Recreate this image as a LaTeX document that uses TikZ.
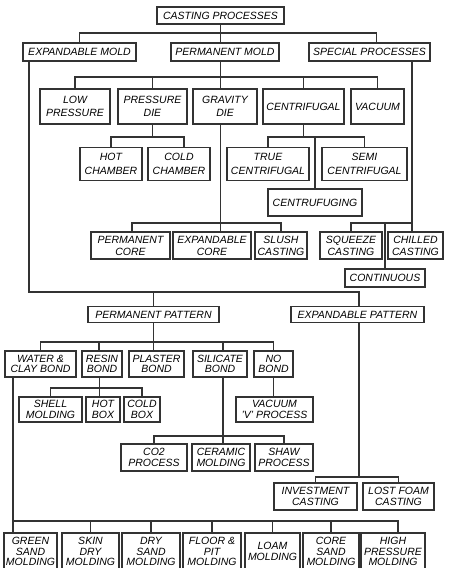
\documentclass[tikz,border=0pt]{standalone}
\usepackage{fontspec}
\setmainfont{Liberation Sans}
\usepackage{tikz}
\usetikzlibrary{positioning,calc}
\newcommand{\cpfont}{\fontsize{10.5}{13.5}\selectfont\itshape}
\tikzset{
  cpbox/.style={draw=black!80, line width=1.2pt, rectangle, inner sep=0pt, align=center, font=\cpfont},
  cpmid/.style={font=\fontsize{10.5}{12}\selectfont\itshape},
  cptight/.style={font=\fontsize{10.5}{10.5}\selectfont\itshape},
  cpline/.style={draw=black!80, line width=1.1pt},
}

\begin{document}
\begin{tikzpicture}[x=1pt, y=-1pt]
  \useasboundingbox (0,0) rectangle (449,568);
  % top and molds
  \node[cpbox, minimum width=127pt, minimum height=17pt] (cast) at (220.5,15.5) {CASTING PROCESSES};
  \node[cpbox, minimum width=113pt, minimum height=18pt] (expmold) at (79.5,52) {EXPANDABLE MOLD};
  \node[cpbox, minimum width=108pt, minimum height=18pt] (permmold) at (225,52) {PERMANENT MOLD};
  \node[cpbox, minimum width=121pt, minimum height=18pt] (special) at (369.5,52) {SPECIAL PROCESSES};

  % permanent mold
  \node[cpbox, minimum width=70pt, minimum height=35pt] (lowp) at (75,106.5) {LOW\\PRESSURE};
  \node[cpbox, minimum width=69pt, minimum height=35pt] (presdie) at (152.5,106.5) {PRESSURE\\DIE};
  \node[cpbox, minimum width=64pt, minimum height=35pt] (gravdie) at (225,106.5) {GRAVITY\\DIE};
  \node[cpbox, minimum width=81pt, minimum height=35pt] (centri) at (303.5,106.5) {CENTRIFUGAL};
  \node[cpbox, minimum width=53pt, minimum height=35pt] (vacuum) at (377.5,106.5) {VACUUM};
  \node[cpbox, minimum width=62pt, minimum height=33pt] (hotch) at (111,164) {HOT\\CHAMBER};
  \node[cpbox, minimum width=62pt, minimum height=33pt] (coldch) at (179,164) {COLD\\CHAMBER};
  \node[cpbox, minimum width=82pt, minimum height=33pt] (truec) at (268,164) {TRUE\\CENTRIFUGAL};
  \node[cpbox, minimum width=85pt, minimum height=33pt] (semic) at (364.5,164) {SEMI\\CENTRIFUGAL};
  \node[cpbox, minimum width=94pt, minimum height=27pt] (centruf) at (315,202.5) {CENTRUFUGING};
  \node[cpbox, cpmid, minimum width=79pt, minimum height=27pt] (permcore) at (130.5,245.5) {PERMANENT\\CORE};
  \node[cpbox, cpmid, minimum width=78pt, minimum height=27pt] (expcore) at (212,245.5) {EXPANDABLE\\CORE};
  \node[cpbox, cpmid, minimum width=52pt, minimum height=27pt] (slush) at (281,245.5) {SLUSH\\CASTING};

  % special processes
  \node[cpbox, cpmid, minimum width=62pt, minimum height=27pt] (squeeze) at (351,245.5) {SQUEEZE\\CASTING};
  \node[cpbox, cpmid, minimum width=55pt, minimum height=27pt] (chilled) at (415.5,245.5) {CHILLED\\CASTING};
  \node[cpbox, minimum width=80pt, minimum height=18pt] (contin) at (385,278) {CONTINUOUS};

  % expandable mold
  \node[cpbox, minimum width=131pt, minimum height=16pt] (permpat) at (153.5,314.5) {PERMANENT PATTERN};
  \node[cpbox, minimum width=133pt, minimum height=16pt] (exppat) at (357.5,314.5) {EXPANDABLE PATTERN};
  \node[cpbox, cptight, minimum width=71pt, minimum height=26pt] (water) at (40.5,364) {WATER \&\\CLAY BOND};
  \node[cpbox, cptight, minimum width=40pt, minimum height=26pt] (resin) at (102,364) {RESIN\\BOND};
  \node[cpbox, cptight, minimum width=55pt, minimum height=26pt] (plaster) at (156.5,364) {PLASTER\\BOND};
  \node[cpbox, cptight, minimum width=54pt, minimum height=26pt] (silicate) at (220,364) {SILICATE\\BOND};
  \node[cpbox, cptight, minimum width=39pt, minimum height=26pt] (nobond) at (273.5,364) {NO\\BOND};
  \node[cpbox, cptight, minimum width=63pt, minimum height=25pt] (shell) at (50.5,409.5) {SHELL\\MOLDING};
  \node[cpbox, cptight, minimum width=34pt, minimum height=25pt] (hotbox) at (103,409.5) {HOT\\BOX};
  \node[cpbox, cptight, minimum width=36pt, minimum height=25pt] (coldbox) at (142,409.5) {COLD\\BOX};
  \node[cpbox, cptight, minimum width=77pt, minimum height=25pt] (vacv) at (274.5,409.5) {VACUUM\\'V' PROCESS};
  \node[cpbox, cptight, minimum width=66pt, minimum height=27pt] (co2) at (154,457.5) {CO2\\PROCESS};
  \node[cpbox, cptight, minimum width=58pt, minimum height=27pt] (ceramic) at (221,457.5) {CERAMIC\\MOLDING};
  \node[cpbox, cptight, minimum width=58pt, minimum height=27pt] (shaw) at (284,457.5) {SHAW\\PROCESS};
  \node[cpbox, cptight, minimum width=83pt, minimum height=27pt] (invest) at (315.5,496.5) {INVESTMENT\\CASTING};
  \node[cpbox, cptight, minimum width=71pt, minimum height=27pt] (lostfoam) at (398.5,496.5) {LOST FOAM\\CASTING};

  % bottom row (cut by the page edge)
  \node[cpbox, cptight, minimum width=53pt, minimum height=37pt] (green) at (30.5,551.5) {GREEN\\SAND\\MOLDING};
  \node[cpbox, cptight, minimum width=57pt, minimum height=37pt] (skin) at (90.5,551.5) {SKIN\\DRY\\MOLDING};
  \node[cpbox, cptight, minimum width=58pt, minimum height=37pt] (dry) at (151,551.5) {DRY\\SAND\\MOLDING};
  \node[cpbox, cptight, minimum width=58pt, minimum height=37pt] (floor) at (212,551.5) {FLOOR \&\\PIT\\MOLDING};
  \node[cpbox, cptight, minimum width=55pt, minimum height=37pt] (loam) at (272.5,551.5) {LOAM\\MOLDING};
  \node[cpbox, cptight, minimum width=56pt, minimum height=37pt] (core) at (331,551.5) {CORE\\SAND\\MOLDING};
  \node[cpbox, cptight, minimum width=64pt, minimum height=37pt] (high) at (393,551.5) {HIGH\\PRESSURE\\MOLDING};

  % connectors
  \draw[cpline] (cast.south) -- (cast.south |- permmold.north);
  \draw[cpline] (expmold.north) |- (cast.south |- 0,33) -| ([xshift=7pt]special.north);

  \draw[cpline] (cast.south |- permmold.south) -- (cast.south |- gravdie.north);
  \draw[cpline] (lowp.north) |- (cast.south |- 0,77) -| (vacuum.north);
  \draw[cpline] (presdie.north) -- (presdie.north |- 0,77);
  \draw[cpline] (centri.north) -- (centri.north |- 0,77);

  \draw[cpline] (presdie.south) -- (presdie.south |- 0,137);
  \draw[cpline] (hotch.north) |- (presdie.south |- 0,137) -| ([xshift=5pt]coldch.north);
  \draw[cpline] (centri.south) -- (centri.south |- 0,137);
  \draw[cpline] (truec.north) |- (centri.south |- 0,137) -| (semic.north);
  \draw[cpline] (centruf.north) -- (centruf.north |- 0,137);

  \draw[cpline] (cast.south |- gravdie.south) -- (cast.south |- expcore.north);
  \draw[cpline] ([xshift=1.5pt]permcore.north) |- (cast.south |- 0,223) -| (slush.north);

  \draw[cpline] ([xshift=42.5pt]special.south) -- ([xshift=42.5pt]special.south |- chilled.north);
  \draw[cpline] (squeeze.north) |- ([xshift=42.5pt]special.south |- 0,223);
  \draw[cpline] (contin.north) -- (contin.north |- 0,223);

  \draw[cpline] ([xshift=-50.5pt]expmold.south) |- ([xshift=1.5pt]exppat.north |- 0,292) -- ([xshift=1.5pt]exppat.north);
  \draw[cpline] (permpat.north) -- (permpat.north |- 0,292);

  \draw[cpline] (permpat.south) -- (permpat.south |- plaster.north);
  \draw[cpline] (water.north) |- (permpat.south |- 0,342) -| (nobond.north);
  \draw[cpline] ([xshift=-3pt]resin.north) -- ([xshift=-3pt]resin.north |- 0,342);
  \draw[cpline] ([xshift=3pt]silicate.north) -- ([xshift=3pt]silicate.north |- 0,342);

  \draw[cpline] ([xshift=-2.5pt]resin.south) -- ([xshift=-2.5pt]resin.south |- hotbox.north);
  \draw[cpline] (shell.north) -- (shell.north |- 0,388) -| (coldbox.north);
  \draw[cpline] (nobond.south) -- (nobond.south |- vacv.north);

  \draw[cpline] ([xshift=3pt]silicate.south) -- ([xshift=3pt]silicate.south |- ceramic.north);
  \draw[cpline] (co2.north) -- (co2.north |- 0,436) -| (shaw.north);

  \draw[cpline] ([xshift=1.5pt]exppat.south) -- ([xshift=1.5pt]exppat.south |- 0,477);
  \draw[cpline] (invest.north) -- (invest.north |- 0,477) -| (lostfoam.north);

  \draw[cpline] ([xshift=-27.5pt]water.south) -- ([xshift=-27.5pt]water.south |- green.north);
  \draw[cpline] ([xshift=-27.5pt]water.south |- 0,521) -| ([xshift=5pt]high.north);
  \foreach \n in {skin,dry,floor,loam,core}
    \draw[cpline] (\n.north) -- (\n.north |- 0,521);
\end{tikzpicture}
\end{document}
